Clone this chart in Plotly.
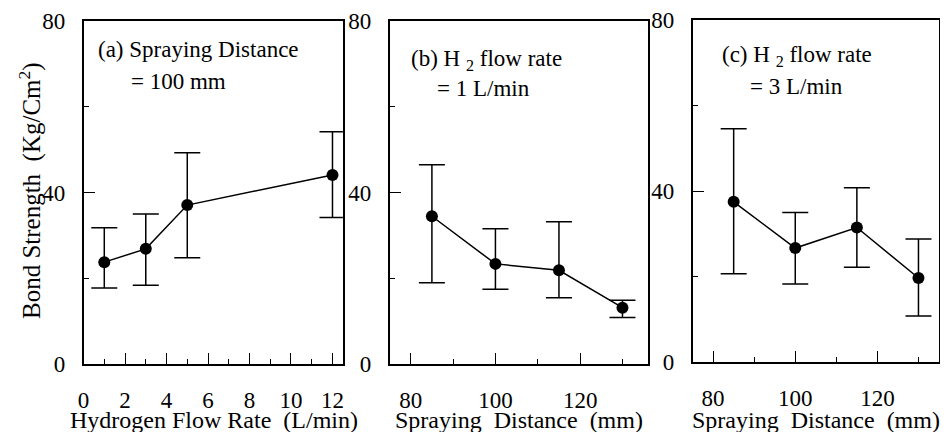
import numpy as np
import plotly.graph_objects as go

# ---- data ----
flow_x = [1, 3, 5, 12]
flow_y = [23.8, 26.9, 37.1, 44.1]
flow_hi = [31.8, 35.0, 49.3, 54.2]
flow_lo = [17.8, 18.4, 24.8, 34.2]

dist_x = [85, 100, 115, 130]
b_y = [34.5, 23.4, 21.9, 13.2]
b_hi = [46.5, 31.6, 33.2, 14.9]
b_lo = [19.0, 17.5, 15.5, 10.9]

c_y = [37.5, 26.7, 31.5, 19.7]
c_hi = [54.6, 35.0, 40.8, 28.8]
c_lo = [20.7, 18.3, 22.2, 10.8]

y_ticks = [0, 40, 80]
y_ticklabels = ["0", "40", "80"]

# visible page area is offset by the 8px body margin
OFF = 8
W, H = 948 - 2 * OFF, 440 - 2 * OFF
FONT = "Liberation Serif, Times New Roman, serif"

# map reference-image pixel positions into the visible region
SX = 927 / 933
AX = 12 - 12 * SX
SY = 424 / 426
AY = 8 - 8 * SY

fig = go.Figure()

series = [
    ("", flow_x, flow_y, flow_hi, flow_lo),
    ("2", dist_x, b_y, b_hi, b_lo),
    ("3", dist_x, c_y, c_hi, c_lo),
]
for suf, x, y, hi, lo in series:
    y = np.array(y)
    fig.add_trace(go.Scatter(
        x=x, y=y, mode="lines+markers",
        xaxis="x" + suf, yaxis="y" + suf,
        line=dict(color="black", width=1.5),
        marker=dict(size=12, color="black"),
        error_y=dict(type="data", symmetric=False,
                     array=np.array(hi) - y, arrayminus=y - np.array(lo),
                     color="black", thickness=1.5, width=13),
        showlegend=False, hoverinfo="skip",
    ))

def px_x(v):
    return (AX + SX * v - OFF) / W

def px_y(v):
    return 1 - (AY + SY * v - OFF) / H

common = dict(showline=True, linecolor="black", linewidth=1.5, mirror=True,
              ticks="inside", tickcolor="black", tickwidth=1.2,
              showgrid=False, zeroline=False, automargin=False,
              ticklabeloverflow="allow",
              tickfont=dict(family=FONT, size=23, color="black"))

panels = [
    ("", (84, 345), (366, 21), [0, 12.5], 2, 1),
    ("2", (392, 652), (366, 21), [75, 136], 20, 10),
    ("3", (697, 945), (364, 20), [75, 135], 20, 10),
]
layout = dict(width=W, height=H, margin=dict(l=0, r=0, t=0, b=0),
              paper_bgcolor="white", plot_bgcolor="white",
              font=dict(family=FONT, color="black"))
for suf, (xl, xr), (yb, yt), xr_, dt, mdt in panels:
    layout["xaxis" + suf] = dict(common, domain=[px_x(xl), px_x(xr)], anchor="y" + suf,
                                 range=xr_, dtick=dt, tick0=0, ticklen=12,
                                 minor=dict(dtick=mdt, tick0=0, ticks="inside", ticklen=6,
                                            tickcolor="black", showgrid=False),
                                 ticklabelstandoff=14)
    layout["yaxis" + suf] = dict(common, domain=[px_y(yb), px_y(yt)], anchor="x" + suf,
                                 range=[0, 80], tickvals=y_ticks, ticktext=y_ticklabels,
                                 ticklen=12,
                                 minor=dict(dtick=20, tick0=0, ticks="inside", ticklen=6,
                                            tickcolor="black", showgrid=False),
                                 ticklabelstandoff=12)
fig.update_layout(**layout)

def ann(text, x, y, size=23, xanchor="left", yanchor="middle", angle=0):
    fig.add_annotation(text=text, x=px_x(x), y=px_y(y), xref="paper", yref="paper",
                       xanchor=xanchor, yanchor=yanchor, showarrow=False, textangle=angle,
                       font=dict(family=FONT, size=size, color="black"))

ann("(a) Spraying Distance", 97, 50)
ann("= 100 mm", 130, 82)
ann("(b) H <sub>2</sub> flow rate", 412, 60)
ann("= 1 L/min", 438, 89)
ann("(c) H <sub>2</sub> flow rate", 725, 56)
ann("= 3 L/min", 753, 87)

ann("Hydrogen Flow Rate  (L/min)", 215, 422, size=24, xanchor="center")
ann("Spraying  Distance  (mm)", 522, 422, size=24, xanchor="center")
ann("Spraying  Distance  (mm)", 821, 422, size=24, xanchor="center")
ann("Bond Strength  (Kg/Cm<sup>2</sup>)", 30, 191, size=25, xanchor="center", angle=-90)

fig.write_html("out.html")
